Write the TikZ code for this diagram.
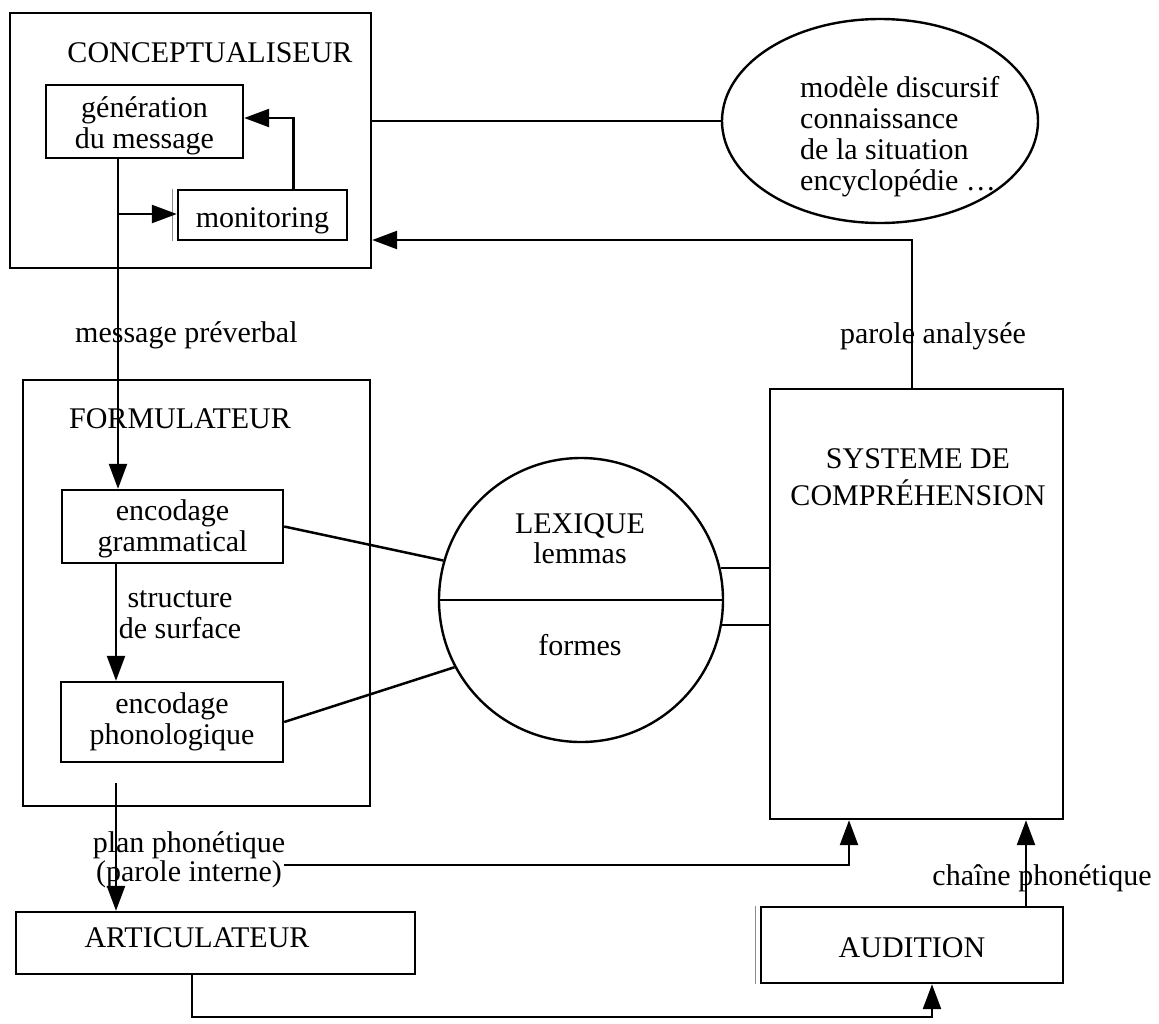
\documentclass[tikz,border=0pt]{standalone}
\usepackage{fontspec}
\setmainfont{Liberation Serif}
\usetikzlibrary{arrows.meta,shapes.geometric}
\newcommand{\lowr}[2]{\raisebox{-#1}[\height][\depth]{#2}}
\begin{document}
\begin{tikzpicture}[x=1pt,y=-1pt,
  every node/.style={font=\fontsize{30}{31}\selectfont, inner sep=0pt},
  box/.style={draw, line width=2.4pt},
  conn/.style={line width=2.5pt, -{Triangle[length=25pt,width=18pt]}},
  plain/.style={line width=2.5pt},
  shadowline/.style={line width=0.9pt, black!45}]
\useasboundingbox (0,0) rectangle (1159,1023);

% --- Conceptualiseur ---
\node[box, minimum width=361pt, minimum height=255pt] (concept) at (190.5,140.5) {};
\node[anchor=base] (ctitle) at (210,62) {CONCEPTUALISEUR};
\node[box, minimum width=197pt, minimum height=73pt, align=center] (gen) at (144.5,121.5) {\lowr{4pt}{génération}\\\lowr{4pt}{du message}};
\node[box, minimum width=169pt, minimum height=50pt] (mon) at (262.5,215) {\lowr{6pt}{monitoring}};
\draw[shadowline] ([xshift=-4pt]mon.north west) -- ([xshift=-4pt]mon.south west);

% --- ellipse ---
\node[draw, ellipse, line width=2.4pt, minimum width=316pt, minimum height=204pt] (ell) at (880,121) {};
\node[anchor=north west, align=left] (elltext) at (800,75.3)
  {\strut modèle discursif\\\strut connaissance\\\strut de la situation\\\strut encyclopédie \dots};

% --- Formulateur ---
\node[box, minimum width=347pt, minimum height=426pt] (form) at (196.5,593) {};
\node[anchor=base] (ftitle) at (180,428) {FORMULATEUR};
\node[box, minimum width=221pt, minimum height=73pt, align=center] (gram) at (172.5,526.5) {\lowr{2pt}{encodage}\\\lowr{2pt}{grammatical}};
\node[box, minimum width=222pt, minimum height=80pt, align=center] (phon) at (172,722) {encodage\\phonologique};

% --- Lexique ---
\node[draw, circle, line width=2.4pt, minimum size=284pt] (lex) at (581,600) {};
\draw[plain] (lex.west) -- (lex.east);
\node[anchor=base] (lextitle) at (580,533) {LEXIQUE};
\node[anchor=base] (lemmas) at (580,563) {lemmas};
\node[anchor=base] (formes) at (580,655) {formes};

% --- Systeme de comprehension ---
\node[box, minimum width=293pt, minimum height=430pt] (sys) at (916.5,604) {};
\node[anchor=north, align=center, font=\fontsize{30}{34}\selectfont] (systext) at (918,444.2)
  {\strut SYSTEME DE\\\strut COMPRÉHENSION};

% --- Articulateur, Audition ---
\node[box, minimum width=399pt, minimum height=62pt] (artic) at (215.5,943) {};
\node[anchor=base] (artictext) at (197,947) {ARTICULATEUR};
\node[box, minimum width=302pt, minimum height=76pt] (aud) at (912,945) {\lowr{3pt}{AUDITION}};
\draw[shadowline] ([xshift=-4pt]aud.north west) -- ([xshift=-4pt]aud.south west);

% --- labels ---
\node[anchor=base west] (lpre) at (75,342) {message préverbal};
\node[anchor=north, align=center, font=\fontsize{30}{30}\selectfont] (lsurf) at (180,586) {\strut structure\\\strut de surface};
\node[anchor=north, align=center, font=\fontsize{30}{24}\selectfont] (lplan) at (189,831.2) {\strut plan phonétique\\\strut (parole interne)};
\node[anchor=base] (lana) at (933,343) {parole analysée};
\node[anchor=base] (lchain) at (1042,885) {chaîne phonétique};

% --- coordinates ---
\coordinate (v1) at (118,214);
\coordinate (p0) at (116,783);
\coordinate (p1) at (284,865);
\coordinate (c1) at (912,240);
\coordinate (c2) at (849,865);
\coordinate (c3) at (1026,900);
\coordinate (c4) at (192,1000);
\coordinate (b1) at (932,1017);

% --- connectors ---
\draw[conn] (gen.south -| v1) -- (gram.north -| v1);
\draw[conn] (v1) -- (v1 -| mon.west);
\draw[conn] ([xshift=31pt]mon.north) |- ([yshift=3.5pt]gen.east);
\draw[plain] (concept.east |- ell.west) -- (ell.west);
\draw[conn] (sys.north -| c1) |- (c1 -| concept.east);
\draw[plain] (gram.east) -- (lex.164);
\draw[plain] (phon.east) -- (lex.208);
\draw[plain] (lex.13) -- (lex.13 -| sys.west);
\draw[plain] (lex.-10) -- (lex.-10 -| sys.west);
\draw[conn] (gram.south -| p0) -- (phon.north -| p0);
\draw[conn] (p0) -- (p0 |- artic.north);
\draw[conn] (p1) -- (c2) -- (c2 |- sys.south);
\draw[conn] (c3 |- aud.north) -- (c3 |- sys.south);
\draw[conn] (artic.south -| c4) |- (b1) -- (b1 |- aud.south);
\end{tikzpicture}
\end{document}
